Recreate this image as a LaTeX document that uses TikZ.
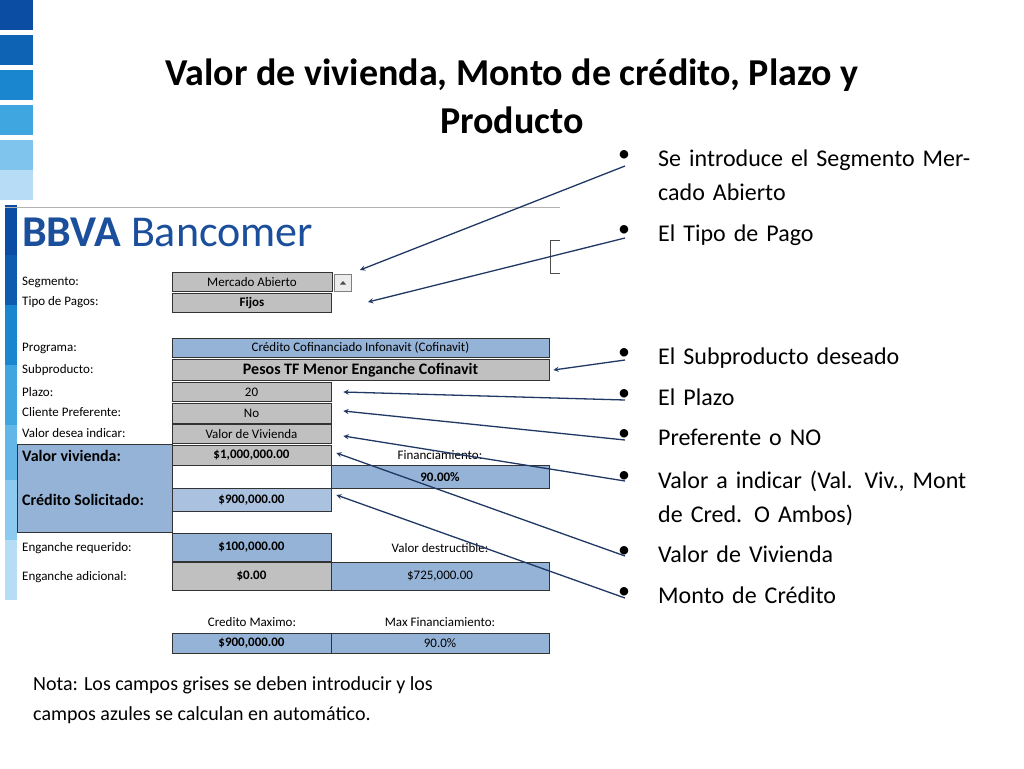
\documentclass[tikz,border=0pt]{standalone}
\usepackage{fontspec}
\setmainfont{Carlito}
\definecolor{cellgray}{HTML}{C0C0C0}
\definecolor{cellblue}{HTML}{95B3D7}
\definecolor{navy}{HTML}{1F3864}
\definecolor{bbva}{HTML}{1B4F9C}
\tikzset{
  cell/.style={draw=black!80, line width=0.8pt, minimum height=19pt, inner sep=0pt, font=\fontsize{13}{13}\selectfont},
  gcell/.style={cell, fill=cellgray},
  bcell/.style={cell, fill=cellblue},
  lbl/.style={anchor=west, inner sep=0pt, font=\fontsize{13}{13}\selectfont},
  bullet/.style={anchor=north west, inner sep=0pt, align=left, text width=330pt, font=\fontsize{24}{34}\selectfont},
  pointer/.style={navy, line width=1.3pt, -stealth}
}
\begin{document}
\begin{tikzpicture}[x=1pt,y=-1pt]
\useasboundingbox[fill=white] (0,0) rectangle (1024,768);
% sidebar blocks
\foreach \y/\c in {0/0B4DA2,35/0E63B5,70/1A86D0,105/3FA6E0,140/7EC4EC,170/B6DDF5}{
  \definecolor{side}{HTML}{\c}
  \fill[side] (0,\y) rectangle (33,\y+30);
}
\foreach \y/\c in {205/0B4DA2,255/0E5CB0,305/1A86D0,365/3FA6E0,425/63B6E8,480/8CCAF0,540/B6DDF5}{
  \definecolor{side}{HTML}{\c}
  \fill[side] (5,\y) rectangle (17,\y+60);
}
% title
\node[font=\bfseries\fontsize{38}{48}\selectfont, align=center] (title) at (512,96)
  {Valor de vivienda, Monto de crédito, Plazo y\\Producto};
% logo
\draw[gray!60] (5,207) -- (560,207);
\node[anchor=west, inner sep=0pt, text=bbva, font=\fontsize{44}{44}\selectfont] (logo) at (22,232)
  {\textbf{BBVA} Bancomer};
% labels
\node[lbl] (lseg) at (22,282) {Segmento:};
\node[lbl] (ltip) at (22,302) {Tipo de Pagos:};
\node[lbl] (lprog) at (22,348) {Programa:};
\node[lbl] (lsub) at (22,370) {Subproducto:};
\node[lbl] (lpla) at (22,392) {Plazo:};
\node[lbl] (lcli) at (22,412) {Cliente Preferente:};
\node[lbl] (lval) at (22,433) {Valor desea indicar:};
\node[fill=cellblue, draw=black!80, minimum width=155pt, minimum height=88pt, inner sep=0pt] (vbox) at (94.5,488) {};
\node[lbl, font=\bfseries\fontsize{16}{16}\selectfont] (lviv) at (22,456) {Valor vivienda:};
\node[lbl, font=\bfseries\fontsize{16}{16}\selectfont] (lcre) at (22,500) {Crédito Solicitado:};
\node[lbl] (lreq) at (22,548) {Enganche requerido:};
\node[lbl] (ladi) at (22,577) {Enganche adicional:};
% cells
\node[gcell, minimum width=160pt] (seg) at (252,282) {Mercado Abierto};
\node[draw=gray, fill=gray!15, minimum width=17pt, minimum height=17pt, inner sep=0pt] (drop) at (343,283) {};
\fill[black!70] ([xshift=-3pt,yshift=-1.5pt]drop.center) -- ([xshift=3pt,yshift=-1.5pt]drop.center) -- ([yshift=2pt]drop.center) -- cycle;
\node[gcell, minimum width=159pt, font=\bfseries\fontsize{13}{13}\selectfont] (tip) at (252,303) {Fijos};
\node[bcell, minimum width=377pt] (prog) at (360.5,348) {Crédito Cofinanciado Infonavit (Cofinavit)};
\node[gcell, minimum width=377pt, minimum height=21pt, font=\bfseries\fontsize{16}{16}\selectfont] (sub) at (360.5,370) {Pesos TF Menor Enganche Cofinavit};
\node[gcell, minimum width=159pt] (pla) at (251.5,392) {20};
\node[gcell, minimum width=159pt, minimum height=20pt] (cli) at (251.5,413) {No};
\node[gcell, minimum width=159pt] (val) at (251.5,434) {Valor de Vivienda};
\node[gcell, minimum width=159pt, minimum height=20pt, font=\bfseries\fontsize{13}{13}\selectfont] (viv) at (251.5,455) {\$1,000,000.00};
\node[cell, fill=white, minimum width=159pt, minimum height=23pt] (blank) at (251.5,477) {};
\node[lbl, anchor=center] (lfin) at (440,455) {Financiamiento:};
\node[bcell, minimum width=218pt, minimum height=23pt, font=\bfseries\fontsize{13}{13}\selectfont] (fin) at (440,477) {90.00\%};
\node[cell, fill=cellblue!80, minimum width=159pt, minimum height=23pt, font=\bfseries\fontsize{13}{13}\selectfont] (cre) at (251.5,500) {\$900,000.00};
\node[bcell, minimum width=159pt, minimum height=28pt, font=\bfseries\fontsize{13}{13}\selectfont] (req) at (251.5,547) {\$100,000.00};
\node[lbl, anchor=center] (ldes) at (440,548) {Valor destructible:};
\node[gcell, minimum width=159pt, minimum height=28pt, font=\bfseries\fontsize{13}{13}\selectfont] (adi) at (251.5,576) {\$0.00};
\node[bcell, minimum width=218pt, minimum height=28pt] (des) at (440,576) {\$725,000.00};
\node[lbl, anchor=center] (lmax) at (252,622) {Credito Maximo:};
\node[lbl, anchor=center] (lmfi) at (440,622) {Max Financiamiento:};
\node[bcell, minimum width=159pt, minimum height=20pt, font=\bfseries\fontsize{13}{13}\selectfont] (max) at (251.5,643) {\$900,000.00};
\node[bcell, minimum width=218pt, minimum height=20pt] (mfi) at (440,643) {90.0\%};
% bracket
\draw[black!70] (560,240) -- (550,240) -- (550,273) -- (560,273);
% bullets
\foreach \n/\y/\t in {b1/150/{Se introduce el Segmento Mercado Abierto},b2/225/{El Tipo de Pago},
  b3/348/{El Subproducto deseado},b4/389/{El Plazo},b5/429/{Preferente o NO},
  b6/471/{Valor a indicar (Val. Viv., Mont de Cred. O Ambos)},b7/546/{Valor de Vivienda},b8/587/{Monto de Crédito}}{
  \node[bullet] (\n) at (658,\y) {\t};
  \node[anchor=north, inner sep=0pt, font=\fontsize{24}{34}\selectfont] (dot\n) at (624,\y) {•};
}
% pointers
\coordinate (p1) at (625,166);
\coordinate (p2) at (625,238);
\coordinate (p3) at (625,360);
\coordinate (p4) at (625,400);
\coordinate (p5) at (625,440);
\coordinate (p6) at (625,481);
\coordinate (p7) at (625,556);
\coordinate (p8) at (625,598);
\draw[pointer] (p1) -- (360,270);
\draw[pointer] (p2) -- (368,302);
\draw[pointer] (p3) -- ([xshift=4pt]sub.east);
\draw[pointer] (p4) -- ([xshift=12pt]pla.east);
\draw[pointer] (p5) -- ([xshift=12pt,yshift=2pt]cli.east);
\draw[pointer] (p6) -- ([xshift=12pt,yshift=-2pt]val.east);
\draw[pointer] (p7) -- ([xshift=5pt,yshift=2pt]viv.east);
\draw[pointer] (p8) -- ([xshift=5pt,yshift=5pt]cre.east);
% note
\node[anchor=north west, inner sep=0pt, align=left, font=\fontsize{20}{30}\selectfont] (nota) at (33,676)
  {Nota: Los campos grises se deben introducir y los\\campos azules se calculan en automático.};
\end{tikzpicture}
\end{document}
